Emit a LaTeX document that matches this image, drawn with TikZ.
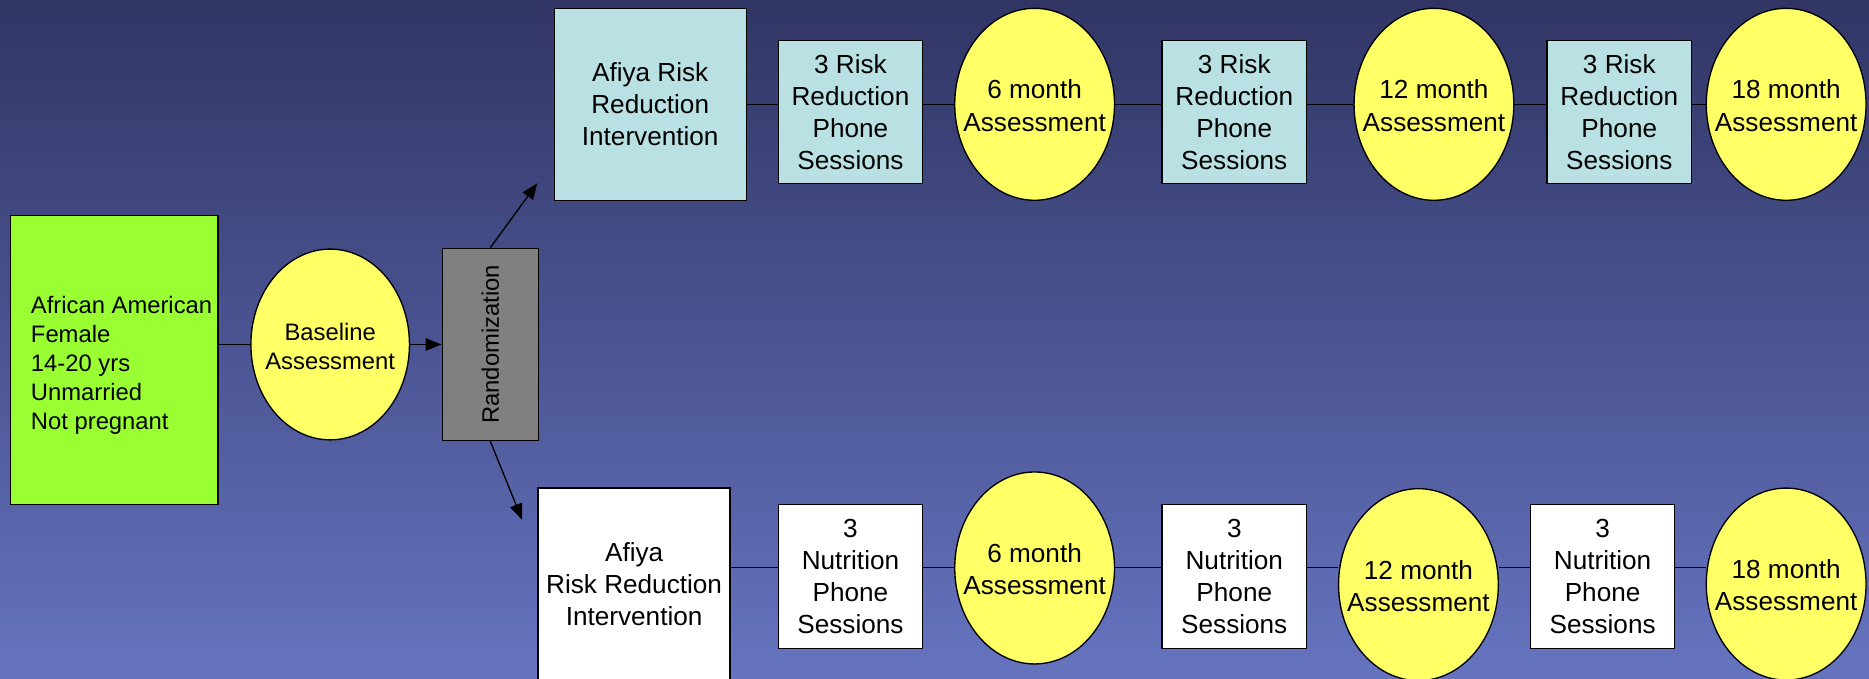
\documentclass[tikz,border=0pt]{standalone}
\usepackage{fontspec}
\setmainfont{Liberation Sans}
\usepackage{xcolor}
\usetikzlibrary{shapes.geometric,arrows.meta}

\definecolor{bgtop}{RGB}{48,53,100}
\definecolor{bgmid}{RGB}{70,80,148}
\definecolor{bgbot}{RGB}{102,116,192}
\definecolor{lime}{RGB}{153,255,51}
\definecolor{paleyellow}{RGB}{255,255,102}
\definecolor{palecyan}{RGB}{185,225,228}
\definecolor{midgray}{RGB}{128,128,128}

\tikzset{
  bigfont/.style={font=\fontsize{15.6}{19.2}\selectfont},
  smallfont/.style={font=\fontsize{14.2}{17.4}\selectfont},
  inside/.style={align=center, inner sep=0pt},
  box/.style={draw, line width=0.8pt, inner sep=0pt, align=center, bigfont},
  studybox/.style={box, minimum width=4.025cm, minimum height=4.025cm},
  phonebox/.style={box, minimum width=3.025cm, minimum height=3cm},
  oval/.style={ellipse, draw, line width=0.8pt, fill=paleyellow, inner sep=0pt,
    minimum width=3.35cm, minimum height=4.025cm},
  visit/.style={oval, label={[inside, bigfont, yshift=-0.03cm]center:#1}},
  link/.style={line width=0.8pt},
  arr/.style={line width=0.8pt, -{Triangle[length=9.5pt,width=7.5pt]}}
}

\begin{document}
\begin{tikzpicture}[x=0.025cm, y=-0.025cm]

% Background
\shade[top color=bgtop, middle color=bgmid, bottom color=bgbot] (0,0) rectangle (1568,569.6);
\useasboundingbox (0,0) rectangle (1568,569.6);

% Sample, baseline and randomization
\node[box, fill=lime, minimum width=4.35cm, minimum height=6.05cm,
  label={[inside, smallfont, align=left, xshift=0.15cm, yshift=-0.11cm]center:African American\\Female\\14-20 yrs\\Unmarried\\Not pregnant}] (sample) at (96,302) {};
\node[oval, minimum width=3.325cm, minimum height=4cm,
  label={[inside, smallfont, yshift=-0.05cm]center:Baseline\\Assessment}] (base) at (277,289) {};
\node[box, fill=midgray, minimum width=2.015cm, minimum height=4.025cm,
  label={[inside, smallfont, rotate=90]center:Randomization}] (rand) at (411.3,289) {};
\coordinate (uptip) at (450.7,153.8);
\coordinate (downtip) at (438,436);

\draw[link] (sample.east |- base.west) -- (base.west);
\draw[arr] (base.east) -- (rand.west);
\draw[arr] (rand.north) -- (uptip);
\draw[arr] (rand.south) -- (downtip);

% Top row: risk reduction arm
\node[studybox, fill=palecyan] (riskI) at (545.5,87.5) {Afiya Risk\\Reduction\\Intervention};
\node[phonebox, fill=palecyan] (riskP1) at (713.5,94) {3 Risk\\Reduction\\Phone\\Sessions};
\node[visit={6 month\\Assessment}] (riskM6) at (868,87.5) {};
\node[phonebox, fill=palecyan] (riskP2) at (1035.5,94) {3 Risk\\Reduction\\Phone\\Sessions};
\node[visit={12 month\\Assessment}] (riskM12) at (1203,87.5) {};
\node[phonebox, fill=palecyan] (riskP3) at (1358.5,94) {3 Risk\\Reduction\\Phone\\Sessions};
\node[visit={18 month\\Assessment}] (riskM18) at (1498.5,87.5) {};

\draw[link] (riskI.east) -- (riskP1.west |- riskI.east);
\draw[link] (riskP1.east |- riskM6.west) -- (riskM6.west);
\draw[link] (riskM6.east) -- (riskP2.west |- riskM6.east);
\draw[link] (riskP2.east |- riskM12.west) -- (riskM12.west);
\draw[link] (riskM12.east) -- (riskP3.west |- riskM12.east);
\draw[link] (riskP3.east |- riskM18.west) -- (riskM18.west);

% Bottom row: nutrition arm
\coordinate (botrow) at (0,476);
\node[studybox, fill=white] (nutI) at (532,490) {Afiya\\Risk Reduction\\Intervention};
\node[phonebox, fill=white, minimum height=3.025cm] (nutP1) at (713.5,483.5) {3\\Nutrition\\Phone\\Sessions};
\node[visit={6 month\\Assessment}] (nutM6) at (868,476.5) {};
\node[phonebox, fill=white, minimum height=3.025cm] (nutP2) at (1035.5,483.5) {3\\Nutrition\\Phone\\Sessions};
\node[visit={12 month\\Assessment}] (nutM12) at (1190,490.5) {};
\node[phonebox, fill=white, minimum height=3.025cm] (nutP3) at (1344.5,483.5) {3\\Nutrition\\Phone\\Sessions};
\node[visit={18 month\\Assessment}] (nutM18) at (1498.5,490) {};

\draw[link] (nutI.east |- botrow) -- (nutP1.west |- botrow);
\draw[link] (nutP1.east |- botrow) -- (nutM6.west |- botrow);
\draw[link] (nutM6.east |- botrow) -- (nutP2.west |- botrow);
\draw[link] (nutP2.east |- botrow) -- (nutM12.west |- botrow);
\draw[link] (nutM12.east |- botrow) -- (nutP3.west |- botrow);
\draw[link] (nutP3.east |- botrow) -- (nutM18.west |- botrow);

\end{tikzpicture}
\end{document}
